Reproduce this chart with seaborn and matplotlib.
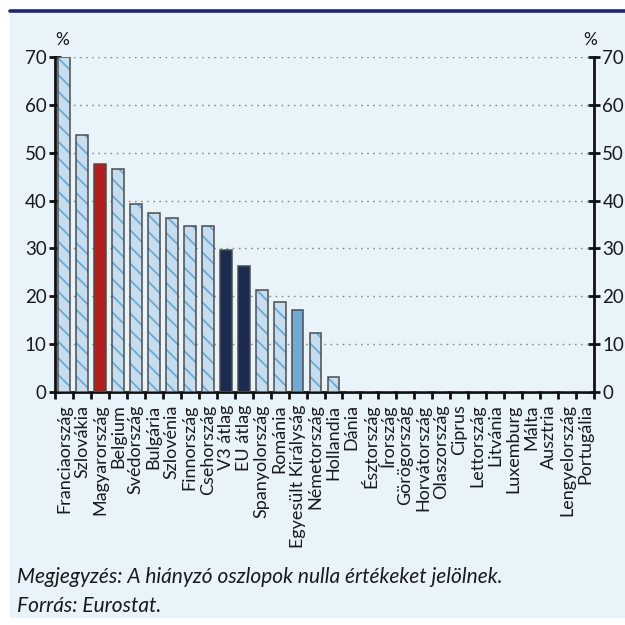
import matplotlib
matplotlib.use("Agg")
import matplotlib.pyplot as plt
import matplotlib.colors as mcolors
from matplotlib.patches import Rectangle
from matplotlib.lines import Line2D
import seaborn as sns
import pandas as pd

countries = ["Franciaország", "Szlovákia", "Magyarország", "Belgium", "Svédország",
             "Bulgária", "Szlovénia", "Finnország", "Csehország", "V3 átlag", "EU átlag",
             "Spanyolország", "Románia", "Egyesült Királyság", "Németország", "Hollandia",
             "Dánia", "Észtország", "Írország", "Görögország", "Horvátország", "Olaszország",
             "Ciprus", "Lettország", "Litvánia", "Luxemburg", "Málta", "Ausztria",
             "Lengyelország", "Portugália"]
values = [70.0, 53.8, 47.7, 46.6, 39.2, 37.4, 36.3, 34.7, 34.7, 29.6, 26.4,
          21.3, 18.8, 17.2, 12.3, 3.1, 0, 0, 0, 0, 0, 0, 0, 0, 0, 0, 0, 0, 0, 0]
kinds = ["hatch", "hatch", "hu", "hatch", "hatch", "hatch", "hatch", "hatch", "hatch",
         "avg", "avg", "hatch", "hatch", "uk", "hatch", "hatch"] + ["hatch"] * 14
y_ticks = [0, 10, 20, 30, 40, 50, 60, 70]

kind_colors = {"hatch": "#c6ddf0", "hu": "#b21f1f", "avg": "#1a2a50", "uk": "#72aad3"}
hatch_color = "#6aaad6"
bg = "#e8f3fa"

df = pd.DataFrame({"country": countries, "value": values, "kind": kinds})

sns.set_theme(style="white")
plt.rcParams["font.family"] = ["Lato", "DejaVu Sans"]
plt.rcParams["hatch.linewidth"] = 1.3

fig = plt.figure(figsize=(6.25, 6.25), dpi=100)
fig.patch.set_facecolor("white")
W = H = 625.0
fig.patches.append(Rectangle((10 / W, 1 - 618 / H), 615 / W, (618 - 12) / H,
                             transform=fig.transFigure, facecolor=bg, edgecolor="none", zorder=-10))
fig.lines.append(Line2D([10 / W, 1.0], [1 - 10.5 / H, 1 - 10.5 / H], transform=fig.transFigure,
                        color="#1c2a6b", linewidth=2.6, zorder=-9))

ax = fig.add_axes([55 / W, 1 - 392 / H, 539 / W, (392 - 57) / H])
ax.set_facecolor(bg)

palette = {c: kind_colors[k] for c, k in zip(countries, kinds)}
sns.barplot(data=df, x="country", y="value", hue="country", palette=palette, legend=False,
            width=0.66, ax=ax, saturation=1, edgecolor="#4d4d4d", linewidth=1.1, zorder=3)

for patch, k in zip(ax.patches, kinds):
    if k == "hatch":
        patch.set_hatch("\\\\")
        try:
            patch.set_hatchcolor(hatch_color)
        except Exception:
            patch._hatch_color = mcolors.to_rgba(hatch_color)

ax.set_xlim(-0.5, len(countries) - 0.5)
ax.set_ylim(0, 70)
ax.set_yticks(y_ticks)
ax.set_xlabel("")
ax.set_ylabel("")

for y in y_ticks[1:]:
    ax.axhline(y, color="#8a8a8a", linewidth=1.0, linestyle=(0, (1.2, 3.2)), zorder=1)

for s in ["left", "right", "bottom"]:
    ax.spines[s].set_visible(True)
    ax.spines[s].set_color("#111111")
    ax.spines[s].set_linewidth(2.0)
ax.spines["top"].set_visible(False)

ax.tick_params(axis="y", which="both", left=True, right=True, labelleft=True, labelright=True,
               direction="inout", length=8, width=2, color="#111111", labelsize=13.5,
               labelcolor="#1a1a1a", pad=2)
ax.set_xticks([i for i in range(len(countries))])
ax.set_xticklabels(countries, rotation=90, fontsize=13, color="#1a1a1a")
ax.tick_params(axis="x", which="major", bottom=False, pad=3)
ax.set_xticks([i + 0.5 for i in range(-1, len(countries))], minor=True)
ax.tick_params(axis="x", which="minor", bottom=True, direction="out", length=5, width=2,
               color="#111111")

fig.text(62 / W, 1 - 40 / H, "%", fontsize=12.5, color="#1a1a1a", ha="center", va="center")
fig.text(590 / W, 1 - 40 / H, "%", fontsize=12.5, color="#1a1a1a", ha="center", va="center")

fig.text(17 / W, 1 - 577 / H, "Megjegyzés: A hiányzó oszlopok nulla értékeket jelölnek.",
         fontsize=15, style="italic", color="#1a1a1a", ha="left", va="center")
fig.text(17 / W, 1 - 606 / H, "Forrás: Eurostat.",
         fontsize=15, style="italic", color="#1a1a1a", ha="left", va="center")

fig.savefig("out.png", dpi=100, facecolor="white")
